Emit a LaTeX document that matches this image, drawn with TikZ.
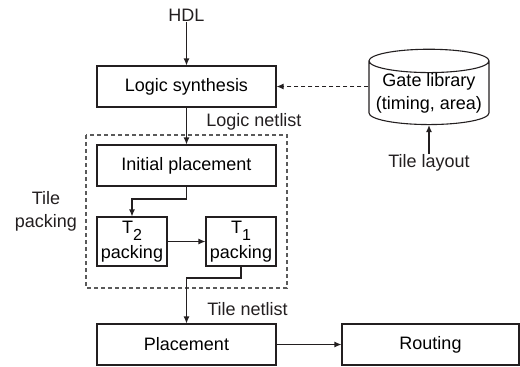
\documentclass[tikz,border=0pt]{standalone}
\usepackage{fontspec}
\setmainfont{Liberation Sans}
\usetikzlibrary{arrows.meta}
\usetikzlibrary{shapes.geometric}
\definecolor{c1}{RGB}{35,31,32}
\definecolor{c2}{RGB}{90,90,90}

\begin{document}
\begin{tikzpicture}[x=0.5pt,y=-0.5pt,
    font=\fontsize{9}{11.5}\selectfont,
    every path/.style={line width=0.55pt},
    blk/.style={draw=c1,minimum width=89.5pt,minimum height=20.5pt,inner sep=0pt},
    small/.style={draw=c1,minimum width=35pt,minimum height=24.5pt,inner sep=0pt,align=center,font=\fontsize{9}{12.5}\selectfont},
    lbl/.style={inner sep=0pt,align=center,text=c1},
    arr/.style={draw=c1,-{Latex[length=3.5pt,width=3pt]}}]
    \useasboundingbox (0,0) rectangle (520,366);
    % synthesis part, top row
    \node[lbl] (hdl) at (186.5,15) {HDL};
    \node[blk] (synth) at (186.5,86.5) {Logic synthesis};
    \node[draw=c1,cylinder,shape border rotate=90,aspect=0.22,
          minimum width=60pt,minimum height=33pt,inner sep=0pt,align=center] (gate) at (429,93)
          {Gate library\\(timing, area)};
    \node[lbl] (layout) at (429,163) {Tile layout};
    % dashed arrow kept level with the synthesis box
    \draw[arr,dash pattern=on 2pt off 1.5pt] (synth.east -| gate.west) -- (synth.east);
    \draw[arr] (hdl) -- (synth);
    \draw[arr] (layout) -- (gate.south);
    % the tile packing box, dashed around the three steps
    \draw[draw=c2,dash pattern=on 2pt off 1.5pt] (86,135) rectangle (287,288);
    \node[lbl] (tpk) at (46,211.5) {Tile\\packing};
    \node[lbl] (lnet) at (254,122) {Logic netlist};
    \node[blk] (init) at (186.5,165.5) {Initial placement};
    \node[small] (ttwo) at (132,241.5) {T\raisebox{-3.5pt}{\fontsize{8}{8}\selectfont 2}\\packing};
    \node[small] (tone) at (241,241.5) {T\raisebox{-3.5pt}{\fontsize{8}{8}\selectfont 1}\\packing};
    \draw[arr] (synth) -- (init);
    \draw[arr] (init.south) |- (132,199) -- (ttwo.north);
    \draw[arr] (ttwo) -- (tone);
    % placement and routing, bottom row
    \node[lbl] (tnet) at (247.5,309) {Tile netlist};
    \node[blk] (place) at (186.5,344.5) {Placement};
    \node[blk,minimum width=88.5pt] (route) at (430.5,344.5) {Routing};
    \draw[arr] (tone.south) |- (186.5,278) -- (place.north);
    \draw[arr] (place) -- (route);
\end{tikzpicture}
\end{document}
